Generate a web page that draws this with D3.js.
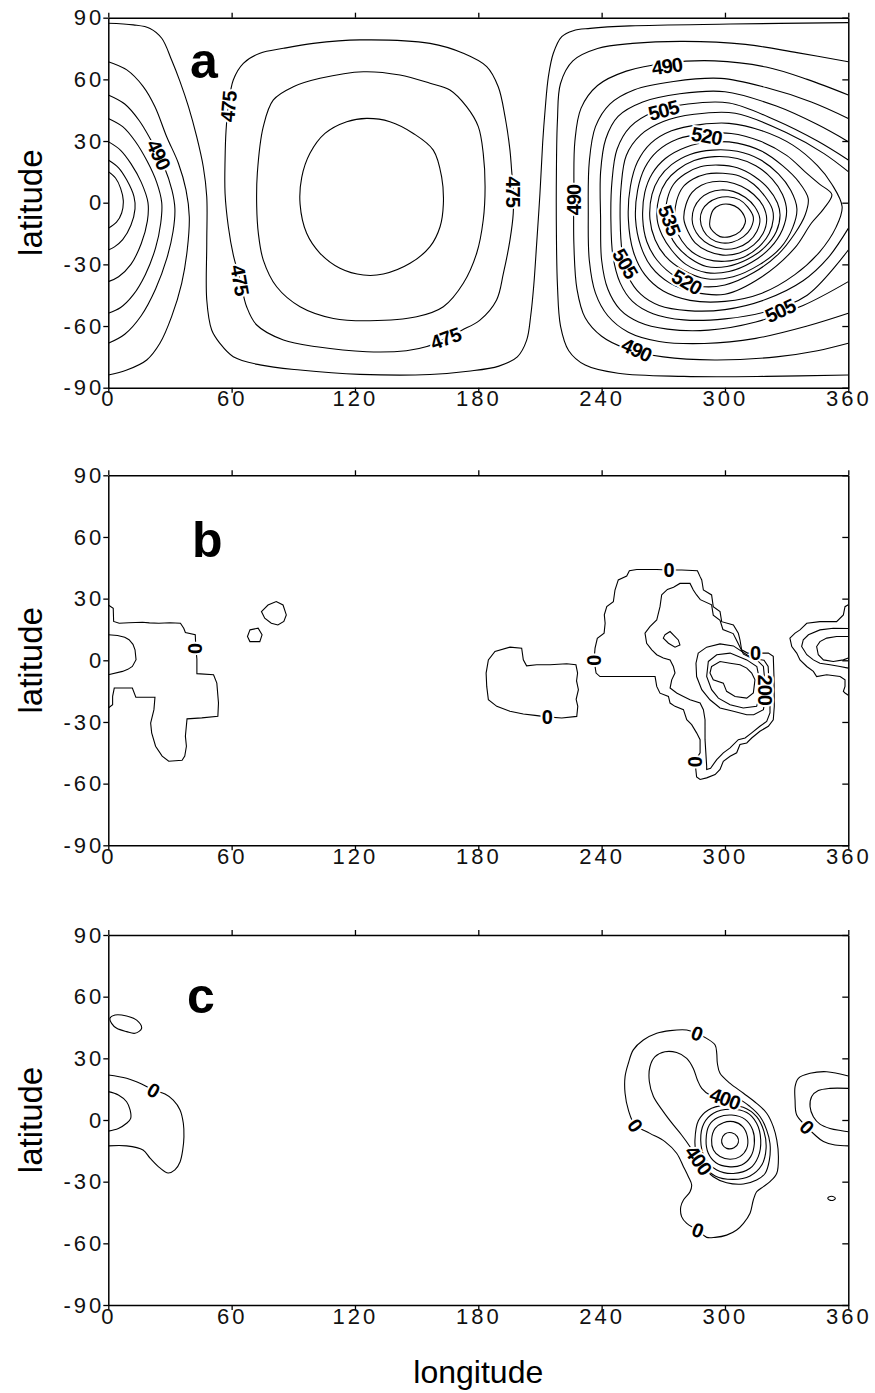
<!DOCTYPE html>
<html>
<head>
<meta charset="utf-8">
<script src="https://cdn.jsdelivr.net/npm/d3@7"></script>
<style>
  body { margin: 0; background: #fff; }
  text { font-family: "Liberation Sans", Arial, sans-serif; }
  .domain { stroke: #000; stroke-width: 1.5px; }
  .tick line { stroke: #000; stroke-width: 1.3px; }
  .tick text { font-size: 22px; letter-spacing: 3px; fill: #111; }
  .cline { fill: none; stroke: #000; stroke-width: 1.1px; }
  .clabel { font-size: 20px; font-weight: bold; fill: #000; stroke: #fff; stroke-width: 4px; paint-order: stroke; letter-spacing: -1px; }
</style>
</head>
<body>
<script>
// ---- axis ticks ----
const lonTicks = [0, 60, 120, 180, 240, 300, 360];
const latTicks = [-90, -60, -30, 0, 30, 60, 90];
const panelLetters = ['a', 'b', 'c'];
const letterPos = [[39.7, 60.7], [40.7, 50.4], [38.3, 52.1]];

// ---- panel a: open contour lines [lon, lat] ----
const aLines = [
  // 480 (runs off the top edge and wraps)
  [[0,87.3],[12.2,86.5],[20.3,84.8],[26,80],[30.8,69.4],[34.9,58.9],[39,46.7],[43,32.1],[46.2,17.5],[47.9,2.9],[47.9,-19.8],[47.9,-47.3],[50.3,-61.9],[54.3,-68.4],[60.8,-74.9],[73.8,-78.9],[93.3,-81.4],[122.4,-83.5],[156.5,-83.6],[175,-82],[190,-79.5],[199,-75],[203.5,-67],[205.5,-55],[207,-40],[208.4,-19.8],[210,4.6],[211.3,28.9],[212.5,45.1],[214.1,61.3],[216.5,72.7],[220.6,80.8],[226.2,83.7],[234.4,84.8],[253.8,86],[302.5,86.9],[360,87.6]],
  // arcs at lon 0 (continuation of the eastern high)
  [[0,68.6],[9,64.6],[17,56.5],[22.7,46.7],[28.4,32.1],[34.1,19.2],[37.8,6.2],[39.4,-6.8],[38.4,-23],[35.7,-39.2],[30.8,-55.4],[25.1,-68.4],[18.7,-76.5],[9,-81.4],[0,-83.8]],
  [[0,52.4],[8,48],[15,40],[21,30],[27,18],[31,6],[32.4,-3],[31.5,-14],[28.5,-27],[23,-42],[16,-55],[8,-64],[0,-68.4]],
  [[0,41],[7,37],[13,30],[19,20],[23.5,10],[26,0],[25.5,-10],[23,-22],[18,-35],[12,-45],[6,-51],[0,-53.8]],
  [[0,29.7],[6,25.5],[11,19],[16,10],[19.3,0],[19,-9],[16,-20],[11,-30],[5,-36],[0,-38.4]],
  [[0,20.8],[5,17],[9,11],[12.5,3],[13,-3],[11,-11],[7,-18],[3,-21.5],[0,-23]],
  [[0,15.1],[3.5,12],[6,7],[7.3,1],[6.5,-5],[4,-9.5],[0,-12.5]],
  // eastern high, lines reaching lon 360
  [[360,68.6],[335,73],[310,77],[280,78.5],[255,77.5],[238,75],[226,69],[220,58],[218.5,40],[218,15],[218,-15],[218.5,-40],[220,-60],[224,-72],[232,-79],[248,-83],[280,-84.5],[320,-84.5],[360,-83.8]],
  [[360,52.4],[340,60],[320,66],[295,69],[272,68],[252,64],[238,57],[230,46],[227,30],[226.5,5],[226.5,-20],[228,-42],[232,-56],[240,-65],[252,-71],[270,-75],[295,-76.5],[325,-75],[345,-72],[360,-68.4]],
  [[360,41],[342,49],[320,56],[298,60.5],[275,59],[256,55],[244,48],[237,37],[234,20],[233.5,-5],[234,-28],[237,-44],[243,-55],[253,-63],[268,-67.5],[290,-68.5],[315,-66],[340,-60],[360,-53.8]],
  [[360,29.7],[345,38],[325,47],[300,54],[278,53],[260,49],[248,42],[242,31],[239.5,15],[239.5,-8],[240,-28],[243,-42],[249,-52],[258,-58],[272,-61.5],[292,-62],[315,-58],[338,-50],[360,-38.4]],
  [[360,20.8],[345,30],[325,40],[302,48.5],[282,48],[265,44],[254,37],[247.5,26],[245,10],[244.5,-8],[245.5,-26],[249,-39],[255,-48],[265,-54],[280,-57],[300,-56.5],[320,-53],[340,-45],[360,-23]],
  [[360,15.1],[348,24],[330,34],[305,43.5],[285,43],[270,39.5],[259,33],[252,23],[249.5,8],[249,-8],[250,-24],[253,-36],[259,-44.5],[268,-50],[282,-52.5],[300,-52],[320,-47],[338,-38],[350,-27],[360,-12.5]]
];

// ---- panel a: closed contour loops ----
const aLoops = [
  // western low
  [[93.3,-0.7],[94.1,12.3],[98.1,24],[105.4,33.7],[116,39.4],[125.7,41],[137,39.4],[148.4,33.7],[158.1,25.6],[162.2,12.3],[163,-0.7],[161.4,-11.7],[156.5,-21.4],[146.8,-29.5],[133.8,-34.7],[124.1,-35.2],[112.7,-31.9],[103,-24.6],[96.5,-14.9]],
  [[72.2,-1.9],[72.5,14.3],[75.4,37],[80.3,50],[90,56.4],[103,60.5],[124.1,63.7],[141.9,62.1],[156.5,58.1],[166.2,54.8],[174.3,46.7],[180,37],[182.4,24],[183.3,7.8],[182.4,-8.4],[179.2,-24.6],[172.7,-39.2],[163,-50.6],[150,-55.5],[127.3,-57.4],[109.5,-56.3],[93.3,-50.6],[81.9,-40.9],[75.4,-27.9],[73,-14.9]],
  [[56.8,4.6],[56.8,20.8],[57.3,35.4],[58.4,46.7],[60.8,59.7],[65.7,67.8],[73.8,72.7],[85.2,75.1],[99.7,77.5],[122.4,79.2],[156.5,77.5],[172.7,72.7],[184.1,66.2],[189.7,56.4],[193,41.9],[195.4,25.6],[196.2,15.9],[197,5.4],[197,-5.2],[195.4,-18.2],[192.2,-34.4],[188.9,-47.3],[180.8,-57.1],[172,-62],[164,-66],[155,-70],[145,-72],[125.7,-72.5],[101.4,-70.1],[85.2,-66.8],[72.2,-59.5],[67.3,-50.6],[64.1,-37.6],[60.8,-25.4],[58.4,-11.7]],
  // eastern high, closed rings
  [[253,-8],[254,8],[257.5,20],[264,29],[274,35],[288,38],[302,38.6],[318,35],[333,28],[345,18],[352,9],[357,-2],[354,-12],[346,-24],[334,-35],[318,-44],[300,-48],[283,-47.5],[270,-43],[261,-35],[255.5,-24]],
  [[256.5,-8],[257.5,6],[261,17],[267,25],[277,31],[290,33.5],[303,33.7],[317,30],[330,23],[339,15],[346,9],[352,4],[348,-3],[342,-10],[334,-22],[318,-36],[300,-44.5],[285,-43.5],[273,-39],[264,-31],[259,-21]],
  [[260,-8],[261,5],[264.5,14],[271,21.5],[281,27],[293,29.5],[306,29],[318,25],[328,18],[336,10],[340.5,2],[339,-6],[334,-15],[326,-25],[314,-34],[300,-40],[287,-40.5],[276,-36],[267,-28],[262,-19]],
  [[263.5,-8],[264.5,4],[268,12],[274,18.5],[283,23.5],[294,25.6],[306,25],[317,21],[326,14],[332,6],[335,-3],[333,-12],[327,-22],[317,-30],[304,-36],[291,-37],[280,-33],[271,-26],[266,-18]],
  [[267,-8],[268,3],[271.5,10.5],[277,16],[285,20.5],[295,22.4],[306,21.5],[315,18],[323,11.5],[328,4],[330,-4],[328,-13],[322,-22],[313,-29],[302,-33.5],[291,-34],[281,-30],[274,-23],[269.5,-16]],
  [[271,-8],[272,2],[275,9],[280.5,14],[288,17.5],[297,18.3],[306,17],[314,13],[321,7],[325.5,0],[326.8,-6],[325,-14],[319.5,-21.5],[311,-27.5],[301,-31],[291,-31],[283,-27],[276.5,-21],[273,-15]],
  [[275.5,-8],[276.5,1],[279.5,7.5],[284.5,11.5],[291,14],[299,14.3],[307,13],[314,9],[319.5,3],[323,-3],[323.5,-8],[321.5,-15],[316.5,-21.5],[309,-26.5],[300,-28.5],[291,-27.5],[284,-24],[279,-18.5],[276.5,-13.5]],
  [[280,-8],[281,-1],[284,5],[288.5,8.5],[294,10.2],[301,10.2],[308,8],[314,4],[318.5,-1.5],[320.3,-8],[318.5,-15],[314,-20.5],[307,-24.5],[299,-25.5],[291.5,-23.5],[285.5,-19.5],[282,-14]],
  [[284,-8],[285,-2.5],[288,2],[292.5,5],[298,6.2],[304,5.5],[310,2.5],[314.5,-2],[317,-8],[315.5,-14],[311.5,-19],[305.5,-22],[299,-22.5],[292.5,-20.5],[287.5,-16.5],[285,-12.5]],
  [[288,-8],[289,-3.5],[292,0],[296.5,2.3],[301.5,2.9],[307,1.5],[311,-2],[313.8,-7],[312.5,-12.5],[309,-16.5],[303.5,-19.2],[298,-19.5],[293,-17.5],[289.5,-13.5]],
  [[292.7,-8.4],[294.3,-3.5],[297.6,-1.1],[302.4,-0.8],[306.5,-2.7],[309.8,-7.6],[309.8,-10],[307.3,-14.1],[302.5,-16.5],[297.6,-16.5],[294.3,-14.1],[292.7,-11.7]]
];

const aLabels = [['475',58.4,46.7],['475',64.1,-37.6],['475',197,5.4],['475',164,-66],['490',24.5,23.5],['490',271.7,66.5],['490',226.5,1.3],['505',270,45],['520',291,32.5],['535',273,-8.4],['505',251.5,-29.5],['520',281.4,-38.5],['505',326.8,-52.5],['490',257,-71.5]];
const aAngles = [-85, 80, 90, -20, 65, -8, -90, -15, 10, 70, 60, 30, -25, 25];

// ---- panel b ----
const bLines = [
  [[0,26.9],[2.4,25.3],[2.6,18.9],[5.3,18],[10,18.3],[16.6,18.5],[20,18.2],[24.6,18],[30,18.3],[35.1,18],[36.7,15.6],[37.5,13.5],[42.3,12.4],[42.6,6],[43.1,0.6],[43.1,-6.5],[51.2,-7],[52.8,-11.1],[53.6,-20.8],[53.3,-27.2],[45.5,-28],[38.3,-28.5],[37.5,-36.9],[38,-41.8],[37.2,-46.6],[35.9,-48.6],[29.4,-49.1],[26.2,-46.6],[23,-41.8],[21.1,-35.3],[20.6,-30.5],[22.2,-24],[22.7,-18],[13.4,-18],[11.7,-13.5],[2.9,-13.5],[2.1,-17.5],[2.1,-21.6],[0,-23.2]],
  [[0,12.4],[4.5,12.1],[8,11.2],[10.1,10],[12,7.8],[13,5.1],[13.5,0.3],[11.7,-3],[9.5,-4.4],[6.9,-5.4],[0,-7]],
  [[360,27],[358.4,26.1],[357.6,22.1],[354.3,18.8],[346.2,18.8],[339.8,18],[336.5,14.8],[334.1,13.2],[331.6,10.8],[332.5,6.7],[334.9,3.5],[336.5,0.2],[339.8,-3],[343,-5.4],[344.6,-7.9],[349.5,-7],[356,-7.9],[358.4,-9.5],[358.4,-12.7],[357.6,-15.1],[358.4,-15.9],[360,-17]],
  [[360,15.5],[352.7,15.6],[346.2,14.8],[340.6,12.4],[338.1,10],[337.3,6.7],[339.8,2.7],[343,0.2],[346.2,-1.4],[351.1,-2.2],[356,-3],[360,-3.8]],
  [[360,11.6],[354.3,11.6],[349.5,10.8],[346.2,9.1],[344.6,6.7],[345.4,2.7],[347.9,0.2],[352.7,-0.6],[357.6,0.2],[360,1.1]]
];
const bLoops = [
  [[68.9,14.8],[72.9,15.6],[74.8,12.4],[73.7,9.1],[68.9,9.1],[67.7,11.6]],
  [[74.5,23.7],[77.7,26.9],[81.7,28.6],[85,26.9],[86.6,22.1],[85.4,18.9],[82.5,17.2],[79.3,18],[76.1,20.5]],
  [[220.6,-28.1],[227.9,-27.3],[228.4,-22.4],[227.6,-19],[228.7,-14.3],[227.8,-10],[228.3,-6.2],[227.5,-2.2],[223,-1.7],[214.9,-2.2],[208.4,-2.2],[203.5,-2.7],[201.9,0.2],[201.1,5.9],[195.4,6.4],[188.1,4.3],[184.9,0.2],[183.8,-6.2],[184.1,-12.7],[184.9,-19.2],[189,-22.4],[195.4,-24.8],[201.9,-26.1],[207.6,-26.8],[213.3,-27.5]],
  [[236.3,0.2],[236.8,5.9],[237.9,10.7],[241.2,13.2],[241.7,18],[241.3,22.1],[242.5,26.1],[245.7,28.5],[246.5,34.2],[248.1,39.1],[252.2,41],[253.5,43.6],[257.1,44.2],[266.8,44.2],[272.5,43.9],[279,43.9],[286.6,43.6],[287.9,40.7],[288.7,39.1],[289.5,34.2],[293.5,31.8],[294.3,26.1],[297.6,23.7],[298.4,18.8],[304.1,17.2],[306.5,13.2],[307.3,10],[308.1,5.1],[311,3.5],[314.6,3.5],[321.1,3.5],[323.5,1.9],[323.9,-9.5],[324,-22.4],[323.5,-28.9],[321.1,-32.1],[317,-34.5],[313,-37.8],[310.6,-40.2],[307.3,-41],[305.7,-45],[302.5,-46.7],[299.2,-49.1],[297.6,-53.1],[295.2,-55.6],[291.1,-57.2],[287.9,-58],[286.2,-56.7],[285.4,-49.1],[287.9,-45],[287.9,-38.6],[286.2,-35.3],[283.8,-31.3],[281.4,-28.9],[279.8,-24],[275.7,-22.4],[273.3,-20.8],[272.5,-17.6],[268.4,-16],[266.8,-12.7],[266,-7.9],[257.1,-7.9],[247.3,-7.9],[239.2,-7.9],[237.3,-6.2]],
  [[269.2,31.8],[272,34.5],[275,35.5],[278.1,37.4],[283,37.4],[284.6,34.2],[286.2,31.8],[288,29.5],[293.5,27],[294.3,22],[297.6,19.5],[299,15],[304,13],[306,9],[308,5],[309,3],[313,1],[319,0],[321,-3],[321.5,-12],[321.9,-20.8],[321.9,-25.6],[320.3,-29.7],[317,-32.1],[313,-35.3],[309.8,-37.8],[306.5,-38.6],[302.5,-42.6],[299.2,-45],[296,-48.3],[293,-52.5],[291.1,-53.1],[291.1,-51.5],[290.3,-38.6],[290.3,-28.9],[289.5,-24],[287.9,-20.8],[283,-19.2],[279.8,-17.6],[276.5,-15.9],[273.3,-13.5],[274.1,-9.5],[275.7,-6.2],[274.9,-3],[273.3,0.2],[270,1.1],[266.8,2.7],[264.4,5.1],[261.9,8.3],[261.1,13.2],[263.5,16.4],[266.8,19.6],[268.4,26.1]],
  [[270.8,12.4],[273.3,14],[277.3,9.9],[278.1,7.5],[275.7,6.4],[272.5,8.3],[270,10.8]],
  [[287,3.5],[291.1,6.4],[297.6,8],[304.1,7],[310.6,2.7],[315.5,0.2],[318.7,-3],[319.5,-11.1],[319.8,-17.6],[318.7,-24],[314,-26.5],[310.6,-26.5],[304.1,-24.8],[297.6,-23.2],[292.7,-19.2],[288.7,-14.3],[286.2,-7.9],[285.9,-1.4]],
  [[291.9,-0.6],[296,2.7],[302.5,3.5],[310.6,0.2],[315.5,-3],[316.8,-9.5],[316.8,-17.6],[315.4,-22.4],[308.9,-23.2],[302.5,-21.6],[296.8,-18.4],[293.5,-14.3],[291.1,-7.9]],
  [[293.5,-3],[297.6,-0.6],[302.5,-1.4],[307.3,-2.2],[310.6,-3.8],[313,-6.2],[314.6,-9.5],[313.8,-15.9],[310.6,-18.4],[304.9,-17.6],[300.8,-15.1],[299.2,-11.1],[294.3,-9.5],[292.7,-6.2]]
];
const bLabels = [['0',42.3,5.9],['0',213.3,-27.3],['0',236.3,0.2],['0',272.5,43.9],['0',314.6,3.5],['200',319.5,-14.3],['0',285.4,-49.1]];
const bAngles = [90, 0, 90, 0, 0, 90, 90];

// ---- panel c ----
const cLines = [
  [[0,21.9],[8.9,20.3],[16.2,17.5],[21.9,14.6],[27.6,12.6],[31.6,9.7],[34.9,4.9],[36.5,-1.6],[36.8,-8.1],[36.2,-14.6],[34.9,-20.4],[32.4,-24.3],[29.1,-25.8],[25.1,-23.3],[20.3,-18.5],[16.9,-14.6],[8.9,-12.6],[0,-12.6]],
  [[0,13.8],[4.9,12.2],[8.9,8.9],[10.6,4.9],[10.9,0.8],[8.9,-1.6],[4.9,-4.1],[0,-5.4]],
  [[360,21.4],[349.5,23.5],[341.4,22.7],[335.7,20.3],[334.1,16.2],[334.1,9.7],[334.9,2.4],[339.8,-3.3],[343.8,-7.3],[347.9,-10.5],[353.5,-12.2],[360,-12.6]],
  [[360,15.4],[351.1,15.4],[345.4,14.3],[342.2,11.4],[341.4,6.5],[343,1.6],[346.2,-2],[351.1,-4.1],[356.8,-5.2],[360,-5.7]]
];
const cLoops = [
  [[0.8,49.5],[3.3,51.1],[8.9,50.6],[13.8,48.6],[16.2,44.6],[13,42.2],[8.9,43],[4.1,44.6],[1.6,47]],
  [[286.2,42.2],[291.1,39.7],[295.2,36.5],[296,32.4],[296.3,27.6],[297.6,22.7],[302.5,17.8],[309,13],[315.4,8.1],[320.3,3.3],[323.5,-3.2],[325.2,-9.7],[326,-17.8],[325.2,-25.9],[321.9,-30],[318.7,-32.4],[315.4,-34.9],[313.8,-38.9],[312.2,-45.4],[309,-50.3],[305.7,-53.5],[300.8,-56],[295.2,-57.1],[291.1,-57.1],[286.6,-53.5],[281.4,-50.3],[278.9,-47],[278.5,-42.2],[279.8,-38.9],[283,-34.9],[283.8,-31.6],[282.2,-27.6],[279.8,-22.7],[276.5,-16.2],[270.8,-10.5],[263.5,-6.5],[256.2,-2.4],[253,4.9],[251.4,13],[251.4,21.1],[253,27.6],[255.4,34.1],[260.3,38.9],[266.8,42.2],[273.3,43.5],[281.4,43.8]],
  [[300,10.5],[307.3,9.7],[312.2,6.5],[317.1,1.6],[320.3,-4.9],[321.9,-11.4],[321.6,-19.5],[319.5,-26],[315.4,-29.2],[309,-31.1],[300.8,-30.5],[294.3,-27.6],[287.1,-19.5],[283,-13],[278.9,-7.3],[274.9,-2.4],[270,4.1],[265.2,11.4],[263.2,18.7],[263.5,25.9],[266,30.8],[270.8,33.2],[276.5,32.8],[281.4,30],[284.6,25.1],[286.6,19.5],[288.7,15.4],[292.7,12.2]],
  [[298.4,-9.7],[300,-6.8],[303.3,-6.2],[306,-8.1],[306.5,-11],[304.4,-13.5],[300.8,-13.8],[298.9,-12.2]],
  [[293.5,-9.7],[295.2,-4.1],[299.2,-1.3],[304.1,-0.8],[308.6,-3.2],[310.9,-8.1],[310.6,-13.8],[307.3,-17.8],[302.5,-19.1],[297.6,-17.8],[294.4,-14.6]],
  [[290.8,-9.7],[292.4,-2.4],[296.8,1.3],[303.3,2.4],[309.8,0.3],[313.5,-4.9],[314.3,-11.4],[312.5,-17.8],[308.1,-21.9],[301.6,-22.7],[295.6,-20.8],[291.9,-16.2]],
  [[288.2,-9.7],[289.8,-1.6],[294.4,3.3],[302.5,5.2],[310.6,3.6],[315.4,-1.6],[317.4,-9.7],[316.2,-17.8],[312.2,-23.5],[304.1,-26],[296,-24.3],[290.3,-18.6]],
  [[285.4,-9.7],[287.1,-0.3],[291.9,4.9],[300,7.1],[308.9,6.2],[315.4,1.6],[319,-5.7],[320,-13.8],[317.9,-21.9],[312.2,-27.2],[304.1,-28.9],[295.2,-27.2],[288.7,-21.1],[285.9,-15.4]],
  [[350,-38],[351.2,-37.2],[353,-37.4],[353.7,-38.2],[352.7,-39],[350.8,-38.9]]
];
const cLabels = [['0',21.9,14.6],['0',286.2,42.2],['0',256.2,-2.4],['400',300,10.5],['400',287.1,-19.5],['0',286.6,-53.5],['0',339.8,-3.3]];
const cAngles = [30, 20, 55, 20, 55, 20, 45];

// ---- layout ----
const W = 875, H = 1393;
const plotLeft = 108.3, plotRight = 848.3, plotH = 370;
const panelTops = [17.7, 475.3, 935];

const panels = [
  { lines: aLines, loops: aLoops, labels: aLabels, angles: aAngles, smooth: true },
  { lines: bLines, loops: bLoops, labels: bLabels, angles: bAngles, smooth: false },
  { lines: cLines, loops: cLoops, labels: cLabels, angles: cAngles, smooth: true }
];

const svg = d3.select('body').append('svg')
  .attr('width', W)
  .attr('height', H);

const x = d3.scaleLinear().domain([0, 360]).range([plotLeft, plotRight]);

panels.forEach((p, i) => {
  const top = panelTops[i];
  const y = d3.scaleLinear().domain([-90, 90]).range([top + plotH, top]);
  const g = svg.append('g');

  g.append('clipPath').attr('id', 'clip' + i)
    .append('rect')
    .attr('x', plotLeft).attr('y', top)
    .attr('width', plotRight - plotLeft).attr('height', plotH);

  const openLine = d3.line().x(d => x(d[0])).y(d => y(d[1]))
    .curve(p.smooth ? d3.curveCatmullRom.alpha(0.5) : d3.curveLinear);
  const closedLine = d3.line().x(d => x(d[0])).y(d => y(d[1]))
    .curve(p.smooth ? d3.curveCatmullRomClosed.alpha(0.5) : d3.curveLinearClosed);

  const lines = g.append('g').attr('clip-path', `url(#clip${i})`);
  lines.selectAll('path.open')
    .data(p.lines)
    .enter().append('path')
    .attr('class', 'cline open')
    .attr('d', openLine);
  lines.selectAll('path.closed')
    .data(p.loops)
    .enter().append('path')
    .attr('class', 'cline closed')
    .attr('d', closedLine);

  // contour labels, white halo breaks the line under them
  g.selectAll('text.clabel')
    .data(p.labels)
    .enter().append('text')
    .attr('class', 'clabel')
    .attr('text-anchor', 'middle')
    .attr('dy', '0.36em')
    .attr('transform', (d, k) => `translate(${x(d[1])},${y(d[2])}) rotate(${p.angles[k]})`)
    .text(d => d[0]);

  // panel letter
  g.append('text')
    .attr('x', x(letterPos[i][0]))
    .attr('y', y(letterPos[i][1]))
    .attr('font-size', 50)
    .attr('font-weight', 'bold')
    .text(panelLetters[i]);

  // axes (plain hyphen for negatives, like the original)
  const fmt = d => String(d);
  g.append('g')
    .attr('transform', `translate(0,${top + plotH})`)
    .call(d3.axisBottom(x).tickValues(lonTicks).tickSize(5).tickSizeOuter(0).tickPadding(-2).tickFormat(fmt));
  g.append('g')
    .attr('transform', `translate(0,${top})`)
    .call(d3.axisTop(x).tickValues(lonTicks).tickSize(5).tickSizeOuter(0).tickFormat(''));
  g.append('g')
    .attr('transform', `translate(${plotLeft},0)`)
    .call(d3.axisLeft(y).tickValues(latTicks).tickSize(5).tickSizeOuter(0).tickPadding(-1).tickFormat(fmt));
  g.append('g')
    .attr('transform', `translate(${plotRight},0)`)
    .call(d3.axisRight(y).tickValues(latTicks).tickSize(-6).tickSizeOuter(0).tickFormat(''));

  g.append('text')
    .attr('transform', `translate(42,${top + plotH / 2}) rotate(-90)`)
    .attr('text-anchor', 'middle')
    .attr('font-size', 33)
    .text('latitude');
});

svg.append('text')
  .attr('x', (plotLeft + plotRight) / 2)
  .attr('y', 1383)
  .attr('text-anchor', 'middle')
  .attr('font-size', 32)
  .text('longitude');

// d3 axes set their own font; restore ours
svg.selectAll('.tick text').attr('font-family', null).attr('font-size', null);
</script>
</body>
</html>
